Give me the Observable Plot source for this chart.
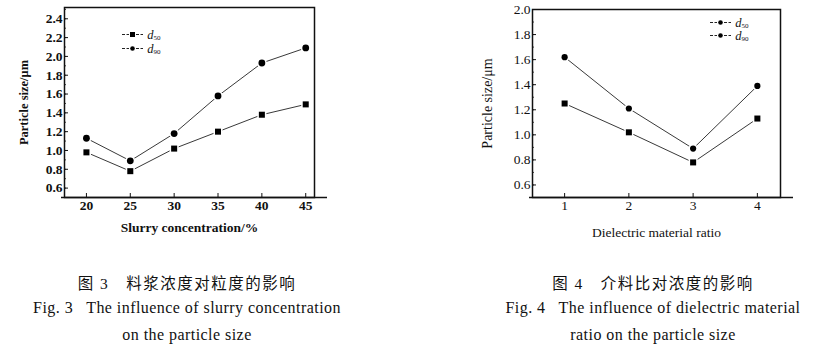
<!DOCTYPE html>
<html><head><meta charset="utf-8">
<script src="https://cdn.jsdelivr.net/npm/d3@7"></script>
<script src="https://cdn.jsdelivr.net/npm/@observablehq/plot@0.6"></script>
<style>
body{margin:0;background:#fff}
#root{position:relative;width:826px;height:356px;overflow:hidden;font-family:"Liberation Serif","Times New Roman",serif;color:#111;background:#fff}
.chart{position:absolute;top:0}
.cap{position:absolute;white-space:pre;font-size:16px;letter-spacing:0.45px;transform:translate(-50%,-50%);color:#111}
.zh{font-family:"Liberation Serif","Noto Sans CJK SC",serif;font-size:15.5px;letter-spacing:1.5px}
.leg{position:absolute;white-space:nowrap;font-size:12.5px;line-height:11px;color:#111}
.leg i{font-style:italic}
.leg sub{font-size:7px;vertical-align:-1px;font-style:normal;line-height:0}
</style></head><body><div id="root"></div>
<script>
// ---------- data ----------
const concentration = [20, 25, 30, 35, 40, 45];
const d50Slurry = [0.98, 0.78, 1.02, 1.20, 1.38, 1.49];
const d90Slurry = [1.13, 0.89, 1.18, 1.58, 1.93, 2.09];
const slurryYTicks = [0.6, 0.8, 1.0, 1.2, 1.4, 1.6, 1.8, 2.0, 2.2, 2.4];

const ratio = [1, 2, 3, 4];
const d50Ratio = [1.25, 1.02, 0.78, 1.13];
const d90Ratio = [1.62, 1.21, 0.89, 1.39];
const ratioYTicks = [0.6, 0.8, 1.0, 1.2, 1.4, 1.6, 1.8, 2.0];

const seriesNames = ["d50", "d90"];
const captions3 = ["图 3　料浆浓度对粒度的影响", "Fig. 3   The influence of slurry concentration", "on the particle size"];
const captions4 = ["图 4　介料比对浓度的影响", "Fig. 4   The influence of dielectric material", "ratio on the particle size"];

const FONT = '"Liberation Serif","Times New Roman",serif';
const root = document.getElementById("root");

function makeChart(o) {
  const rows50 = o.x.map((x, i) => ({x, y: o.d50[i]}));
  const rows90 = o.x.map((x, i) => ({x, y: o.d90[i]}));
  const minor = d3.range(o.yDomain[0], o.yDomain[1], 0.1).map(v => +v.toFixed(2)).filter(v => v >= o.yDomain[0] && v <= o.yDomain[1]);
  const chart = Plot.plot({
    width: o.width, height: o.height,
    marginLeft: o.ml, marginRight: o.mr, marginTop: o.mt, marginBottom: o.mb,
    style: {fontFamily: FONT, fontSize: "13.5px", fontWeight: o.weight, color: "#111", background: "transparent"},
    x: {domain: o.xDomain},
    y: {domain: o.yDomain},
    marks: [
      Plot.axisY(minor, {tickSize: -2, tickFormat: () => "", label: null, strokeWidth: 0.8}),
      Plot.axisY(o.yTicks, {tickSize: -4, tickFormat: () => "", label: null}),
      Plot.axisY(o.yTicks, {tickSize: 0, tickPadding: 2, tickFormat: d3.format(".1f"), label: null}),
      Plot.axisY(o.yTicks, {tickSize: 0, tickFormat: () => "", label: o.yLabel, labelAnchor: "center", labelArrow: "none", labelOffset: o.yLabelOffset, fontSize: o.yLabelSize}),
      Plot.axisX(o.x, {tickSize: -4, tickFormat: () => "", label: null}),
      Plot.axisX(o.x, {tickSize: 0, tickPadding: 3, label: o.xLabel, labelAnchor: "center", labelArrow: "none", labelOffset: o.xLabelOffset}),
      Plot.frame({strokeWidth: 1.5, stroke: "#111"}),
      Plot.ruleY([o.yDomain[0]], {strokeWidth: 1.5, stroke: "#111", insetRight: -13, insetLeft: -3}),
      Plot.line(rows50, {x: "x", y: "y", stroke: "#222", strokeWidth: 0.9}),
      Plot.line(rows90, {x: "x", y: "y", stroke: "#222", strokeWidth: 0.9}),
      Plot.dot(rows50, {x: "x", y: "y", symbol: "square", r: o.rSq, fill: "#000", stroke: "#fff", strokeWidth: 3, paintOrder: "stroke"}),
      Plot.dot(rows90, {x: "x", y: "y", symbol: "circle", r: o.rCi, fill: "#000", stroke: "#fff", strokeWidth: 3, paintOrder: "stroke"})
    ]
  });
  chart.classList.add("chart");
  chart.style.left = o.left + "px";
  root.appendChild(chart);
}

makeChart({
  x: concentration, d50: d50Slurry, d90: d90Slurry, yTicks: slurryYTicks,
  xDomain: [17.5, 46], yDomain: [0.5, 2.52],
  left: 0, width: 340, height: 240, ml: 64, mr: 26, mt: 7, mb: 43,
  yLabel: "Particle size/μm", xLabel: "Slurry concentration/%",
  yLabelOffset: 45, xLabelOffset: 34, weight: "bold", yLabelSize: 12.5, rSq: 3.4, rCi: 3.4
});
makeChart({
  x: ratio, d50: d50Ratio, d90: d90Ratio, yTicks: ratioYTicks,
  xDomain: [0.5, 4.36], yDomain: [0.5, 2.0],
  left: 460, width: 350, height: 240, ml: 72, mr: 30, mt: 9, mb: 43,
  yLabel: "Particle size/μm", xLabel: "Dielectric material ratio",
  yLabelOffset: 50, xLabelOffset: 39, weight: "normal", yLabelSize: 14, rSq: 3.4, rCi: 3.1
});

// legends
function legend(left, top, kinds, gap) {
  seriesNames.forEach((name, i) => {
    const div = document.createElement("div");
    div.className = "leg";
    div.style.left = left + "px";
    div.style.top = (top + i * gap) + "px";
    const sym = kinds[i] === "square"
      ? '<rect x="8" y="3" width="5" height="5" fill="#000"/>'
      : '<circle cx="10.5" cy="5.5" r="2.3" fill="#000"/>';
    div.innerHTML = '<svg width="22" height="11" style="vertical-align:-1px"><line x1="0" y1="5.5" x2="7" y2="5.5" stroke="#222" stroke-dasharray="3 1.5"/><line x1="14" y1="5.5" x2="21" y2="5.5" stroke="#222" stroke-dasharray="3 1.5"/>' + sym + '</svg> <i>d</i><sub>' + name.slice(1) + '</sub>';
    root.appendChild(div);
  });
}
legend(122, 29, ["square", "circle"], 14);
legend(710, 17, ["circle", "circle"], 13);

// captions
function caption(cx, lines) {
  const ys = [282, 308, 335];
  lines.forEach((t, i) => {
    const d = document.createElement("div");
    d.className = "cap" + (i === 0 ? " zh" : "");
    d.style.left = cx + "px";
    d.style.top = ys[i] + "px";
    d.textContent = t;
    root.appendChild(d);
  });
}
caption(187, captions3);
caption(653, captions4);
</script></body></html>
